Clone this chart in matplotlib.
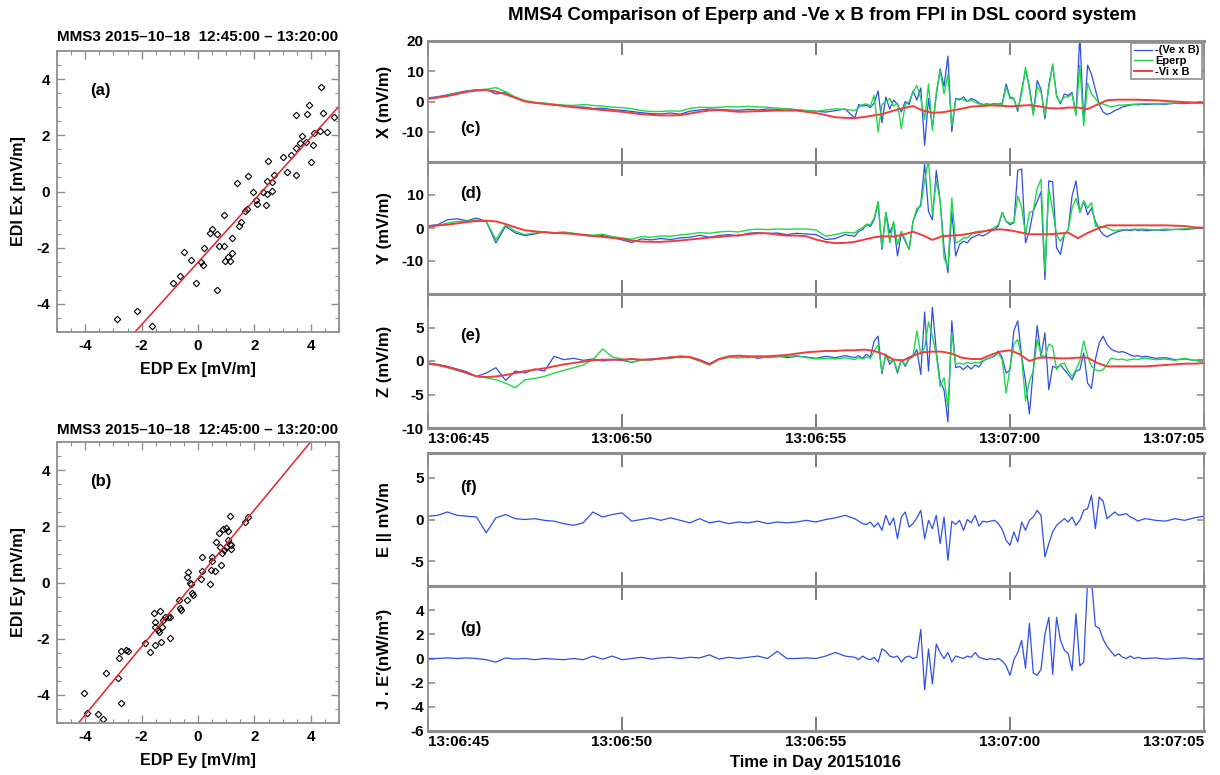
import numpy as np
import matplotlib
matplotlib.use('Agg')
import matplotlib.pyplot as plt
from matplotlib import font_manager, transforms
from matplotlib.ticker import MultipleLocator

names = {f.name for f in font_manager.fontManager.ttflist}
REG = 'Liberation Sans' if 'Liberation Sans' in names else 'DejaVu Sans'
plt.rcParams['font.family'] = [REG, 'DejaVu Sans']
plt.rcParams['font.weight'] = 'bold'
plt.rcParams['axes.unicode_minus'] = False

# ---------------- scatter data ----------------
title_ab = "MMS3 2015\u201310\u201318  12:45:00 \u2013 13:20:00"
ex_edp = [-2.86, -2.17, -1.63, -0.87, -0.64, -0.5, -0.25, -0.08, 0.11, 0.19, 0.21, 0.43, 0.51,
          0.69, 0.69, 0.75, 0.92, 0.93, 0.96, 1.07, 1.13, 1.21, 1.21, 1.39, 1.46, 1.51, 1.67,
          1.73, 1.77, 1.94, 2.06, 2.08, 2.29, 2.4, 2.45, 2.48, 2.44, 2.62, 2.64, 2.68, 3.0,
          3.15, 3.3, 3.48, 3.48, 3.48, 3.6, 3.69, 3.82, 3.88, 3.93, 3.99, 4.07, 4.11, 4.32,
          4.35, 4.43, 4.56, 4.82]
ex_edi = [-4.54, -4.24, -4.77, -3.25, -3.0, -2.14, -2.44, -3.24, -2.51, -2.63, -2.0, -1.46, -1.35,
          -1.5, -3.51, -1.95, -1.95, -0.85, -2.46, -2.33, -2.46, -2.18, -1.65, 0.3, -1.23, -1.07,
          -0.7, -0.63, 0.54, -0.01, -0.32, -0.44, 0.0, -0.48, -0.1, 1.1, 0.37, 0.35, 0.01, 0.58,
          1.23, 0.68, 1.3, 1.55, 0.6, 2.73, 1.73, 1.96, 1.75, 2.75, 3.08, 1.06, 1.65, 2.07, 2.14,
          3.73, 2.79, 2.11, 2.65]
fit_x = [1.11, -2.52]   # slope, intercept of red line in (a)

ey_edp = [-4.05, -3.93, -3.55, -3.37, -3.26, -2.85, -2.79, -2.74, -2.73, -2.56, -2.49, -1.88,
          -1.71, -1.57, -1.52, -1.54, -1.51, -1.43, -1.39, -1.36, -1.31, -1.29, -1.25, -1.17,
          -1.07, -1.01, -1.0, -0.69, -0.63, -0.6, -0.4, -0.36, -0.38, -0.3, -0.24, -0.2, -0.18,
          0.1, 0.14, 0.13, 0.42, 0.45, 0.48, 0.5, 0.6, 0.65, 0.74, 0.77, 0.83, 0.86, 0.89, 0.92,
          0.99, 1.01, 1.06, 1.08, 1.13, 1.15, 1.17, 1.18, 1.67, 1.76]
ey_edi = [-3.94, -4.63, -4.69, -4.86, -3.22, -3.4, -2.7, -2.45, -4.28, -2.41, -2.42, -2.14,
          -2.46, -1.09, -2.21, -1.39, -1.58, -1.7, -1.75, -1.03, -2.1, -1.6, -1.32, -1.21,
          -1.21, -1.98, -1.24, -0.61, -0.89, -0.97, 0.19, 0.39, -0.64, 0.0, -0.05, -0.37, -0.46,
          0.14, 0.9, 0.4, -0.04, 0.45, 0.78, 0.9, 0.4, 1.43, 1.76, 1.26, 0.61, 1.05, 1.91, 1.16,
          1.95, 1.26, 1.5, 1.85, 1.38, 2.35, 1.18, 1.35, 2.14, 2.32]
fit_y = [1.215, 0.15]

scatter_ticks = [-4, -2, 0, 2, 4]

# ---------------- time series data ----------------
time_labels = ['13:06:45', '13:06:50', '13:06:55', '13:07:00', '13:07:05']
time_ticks = [0, 5, 10, 15, 20]      # seconds after 13:06:45
t_slow = np.arange(0.0, 11.0, 0.25)
t_fast = np.arange(110, 185) / 10.0
t_tail = np.arange(18.5, 20.01, 0.25)
t_main = np.concatenate([t_slow, t_fast, t_tail])
t_red = np.arange(0.0, 20.01, 0.25)

c_blue = [1.2, 1.6, 2.2, 2.9, 3.5, 3.9, 4.0, 2.5, 3.0, 1.3, 0.2, -0.5, -0.6, -1.2, -1.3, -1.8, -1.8, -2.3, -2.2, -2.7,
          -2.9, -3.3, -3.7, -4.0, -4.1, -3.8, -4.2, -3.2, -2.8, -2.5, -2.6, -2.8, -2.9, -2.6, -2.8, -2.5, -2.6, -2.4, -2.7, -3.0,
          -3.2, -3.5, -3.0, -2.5,
          -5.5, -1.0, -1.5, -1.2, -2.0, -0.5, 3.5, -7.0, 1.5, -2.5,
          0.5, -1.0, -3.5, 0.0, -1.0, 3.5, 0.5, 4.5, -14.5, 1.0,
          -8.5, 2.0, 10.8, 5.0, 15.0, -10.0, 1.0, 0.5, 1.5, 0.0,
          1.0, 0.5, -0.5, -1.0, -0.8, -1.0, -0.7, -0.9, -0.5, 5.8,
          1.5, 1.0, -3.3, 3.6, 10.5, 5.0, -4.0, 6.9, 4.0, -5.7,
          5.5, 12.0, 2.0, -0.8, 2.5, 2.0, 3.0, -4.5, 22.0, -7.0,
          12.0, 9.0, 4.0, -1.0, -3.5, -4.3, -3.8, -3.0, -2.5, -1.8,
          -1.5, -1.2, -1.0, -1.1, -0.9,
          -1.0, -0.8, -0.9, -0.6, -0.7, -0.4, -0.5]
c_green = [0.8, 1.4, 2.0, 2.7, 3.3, 3.8, 4.0, 4.6, 3.2, 1.5, 0.3, -0.3, -0.5, -0.9, -1.2, -1.3, -1.0, -1.3, -1.5, -1.9,
           -2.0, -2.4, -3.0, -3.3, -3.3, -3.1, -3.2, -2.3, -1.9, -2.0, -1.9, -1.7, -1.8, -1.6, -1.8, -1.9, -2.2, -2.4, -2.8, -3.0,
           -3.3, -2.8, -2.4, -2.6,
           -3.0, -2.0, -1.0, -0.8, -1.5, 2.0, -10.0, -1.0, 0.0, 1.0,
           -1.5, -0.5, -9.0, -1.0, 0.0, 3.0, 5.3, 1.0, -6.0, 5.8,
           -9.5, 3.0, 10.2, 2.5, 9.0, -8.0, 0.5, 1.0, 0.5, 0.0,
           0.5, -0.2, -0.8, -1.0, -1.0, -0.9, -1.0, -0.8, -1.0, 4.8,
           1.0, 0.8, -2.5, 2.5, 11.3, 4.0, -4.6, 5.0, 3.0, -4.6,
           4.5, 12.4, 1.5, -0.2, 1.5, 1.5, 2.5, -4.5, 12.0, -8.0,
           6.0, 2.5, 1.0, -0.8, -0.8, -1.3, -1.8, -1.5, -1.2, -1.2,
           -1.1, -1.0, -0.9, -0.8, -0.8,
           -0.7, -0.8, -0.6, -0.5, -0.4, -0.3, -0.2]
c_red = [0.9, 1.3, 1.8, 2.5, 3.2, 3.6, 3.8, 3.3, 2.4, 1.2, 0.0, -0.4, -0.8, -1.1, -1.5, -1.9, -2.2, -2.5, -2.8, -3.1,
         -3.4, -3.8, -4.2, -4.4, -4.6, -4.6, -4.5, -4.0, -3.4, -3.0, -2.8, -3.1, -3.4, -3.3, -3.2, -3.1, -3.0, -3.0, -3.0, -3.4,
         -3.8, -4.5, -5.2, -5.4, -5.5, -5.1, -4.6, -4.0, -3.0, -2.2, -1.5, -3.0, -3.7, -3.6, -3.0, -2.4, -1.7, -1.5, -1.3, -1.4,
         -1.6, -1.4, -1.2, -1.6, -2.2, -2.3, -2.0, -2.0, -2.5, -1.0, 0.4, 0.6, 0.6, 0.6, 0.5, 0.4, 0.2, 0.0, -0.2, -0.4,
         -0.4]

d_blue = [0.7, 1.0, 2.5, 2.8, 2.2, 3.0, 2.0, -4.5, 0.5, -1.5, -2.3, -1.8, -1.2, -1.6, -1.4, -1.7, -2.2, -2.5, -2.3, -2.9,
          -3.6, -4.4, -3.3, -3.6, -3.2, -3.5, -3.0, -2.8, -2.2, -2.8, -2.3, -2.0, -2.4, -1.6, -1.4, -1.7, -1.5, -2.0, -1.6, -1.8,
          -2.0, -3.5, -3.2, -2.0,
          -2.5, -1.0, -0.5, 1.0, 0.5, 2.5, 7.5, -6.5, 4.7, -1.5,
          1.5, -8.5, -1.5, -4.0, -6.5, 2.0, 5.0, 7.2, 19.4, 5.0,
          2.5, 17.4, 8.2, -6.0, -13.6, 5.0, -8.5, -5.0, -4.0, -4.5,
          -3.0, -2.5, -2.0, -2.4, -1.8, -1.0, -0.5, 0.6, 4.7, 2.0,
          1.0, 1.6, 17.4, 17.9, -4.5, -1.0, 5.2, 8.0, 11.0, -15.6,
          14.3, 14.0, -6.0, -8.0, -2.0, -0.5, 9.7, 14.3, 4.7, 8.2,
          4.0, 6.0, 2.0, -0.4, -2.0, -2.7, -2.0, -1.5, -1.0, -0.8,
          -0.6, -0.8, -0.5, -0.7, -0.6,
          -0.8, -0.6, -0.7, -0.4, -0.5, -0.2, -0.1]
d_green = [0.2, 0.7, 1.5, 2.0, 2.0, 2.4, 2.0, -3.5, 1.0, -1.0, -2.0, -1.5, -1.2, -1.4, -1.2, -1.6, -2.0, -2.2, -1.9, -2.6,
           -3.0, -3.4, -2.6, -2.8, -2.4, -2.5, -2.1, -1.8, -1.4, -1.6, -1.2, -1.0, -1.2, -0.6, -0.3, -0.5, -0.3, -0.4, -0.3, -0.3,
           -0.6, -2.5, -2.0, -1.3,
           -1.5, -0.5, 0.0, 1.2, 1.0, 3.0, 8.1, -6.0, 4.7, -4.5,
           2.0, -5.0, -1.0, -3.5, -6.5, 2.0, 6.0, 6.5, 14.3, 20.5,
           4.0, 14.3, 8.2, -9.0, -12.0, 9.0, -4.5, -4.0, -3.0, -3.0,
           -2.0, -1.2, -1.0, -1.0, -0.8, -0.5, 0.2, 1.0, 4.7, 2.0,
           1.5, 1.8, 9.7, 6.2, -2.0, 4.7, 5.2, 12.0, 14.8, -13.0,
           12.0, 5.5, -2.0, -4.0, -2.0, -0.5, 6.0, 9.0, 5.0, 8.2,
           6.0, 7.7, 0.6, 0.5, 0.3, 0.1, -0.5, -0.8, -0.6, -0.5,
           -0.4, -0.5, -0.3, -0.4, -0.3,
           -0.4, -0.6, -0.3, -0.5, -0.2, 0.0, 0.1]
d_red = [0.5, 0.8, 1.0, 1.4, 1.8, 2.1, 2.2, 2.0, 1.2, 0.2, -0.7, -1.0, -1.3, -1.5, -1.6, -1.8, -2.1, -2.4, -2.7, -3.0,
         -3.3, -3.8, -4.1, -4.2, -4.2, -4.0, -3.8, -3.5, -3.2, -2.9, -2.7, -2.4, -2.2, -1.9, -1.6, -1.6, -2.0, -2.3, -2.3, -2.5,
         -3.5, -4.2, -4.6, -4.5, -4.2, -3.5, -2.8, -2.5, -2.6, -2.0, -1.1, -2.2, -3.6, -2.5, -2.3, -2.1, -1.6, -1.2, -0.6, -0.4,
         -0.7, -1.3, -1.9, -1.9, -1.9, -1.7, -1.4, -3.1, -1.5, -0.2, 0.8, 0.8, 0.8, 0.8, 0.8, 0.8, 0.8, 0.7, 0.6, 0.2,
         0.1]

e_blue = [-0.3, -0.5, -0.8, -1.2, -1.6, -2.3, -1.8, -1.0, -2.9, -1.5, -1.8, -1.2, -1.5, 0.7, 0.2, 0.4, 0.1, 0.3, 0.0, 0.2,
          0.1, -0.2, 0.2, 0.3, 0.4, 0.6, 0.5, 0.6, 0.2, -0.4, 0.3, 0.6, 0.5, 0.7, 0.4, 0.6, 0.8, 0.5, 0.7, 0.6,
          0.4, 0.7, 0.5, 0.8,
          0.5, 0.8, 0.4, 1.0, 0.6, 3.0, 3.7, -1.9, 1.0, -0.5,
          0.2, -1.8, 0.2, -0.8, 0.3, 0.7, 1.7, -2.0, 7.3, -1.5,
          8.0, 1.5, -3.0, -4.3, -9.1, 6.0, -1.0, -0.8, -1.3, -0.7,
          -1.2, -0.6, -0.9, 0.0, 0.3, 0.5, 0.7, 1.5, 0.5, -1.8,
          -1.3, 4.5, 6.0, 0.7, -3.0, -7.9, -1.3, 5.3, 0.7, 4.2,
          -4.3, -0.8, -1.0, -0.6, -1.3, -2.0, -2.8, -1.5, -1.3, 1.2,
          -3.3, -4.1, 0.2, 2.7, 3.7, 2.5, 1.8, 1.5, 1.3, 1.4,
          1.2, 0.9, 0.7, 0.8, 0.6,
          0.7, 0.4, 0.5, 0.2, 0.3, 0.1, 0.2]
e_green = [-0.3, -0.6, -1.0, -1.4, -1.8, -2.3, -2.5, -2.8, -3.3, -4.0, -2.8, -2.6, -2.3, -1.8, -1.4, -1.0, -0.6, 0.2, 1.8, 0.6,
           0.3, -0.2, 0.1, 0.2, 0.3, 0.4, 0.6, 0.5, 0.0, -0.6, 0.2, 0.5, 0.5, 0.5, 0.6, 0.5, 0.6, 0.7, 0.8, 0.5,
           0.3, 0.4, 0.3, 0.5,
           0.2, 0.5, 0.3, 0.6, 0.4, 1.5, 2.4, -1.6, 1.0, 0.0,
           0.2, -1.5, 0.2, -0.6, 0.5, 0.8, 4.5, 1.0, 2.0, 5.8,
           3.7, 1.0, -3.8, -2.5, -6.9, 4.2, -0.5, -0.3, -0.5, -0.2,
           -0.4, -0.2, -0.3, 0.1, 0.3, 0.5, 0.8, 1.2, 0.2, -4.8,
           -1.0, 2.5, 3.2, 0.5, -5.9, -3.0, -1.5, 3.2, 1.0, 0.5,
           2.5, 2.2, -1.3, -0.5, -0.3, -1.5, -2.3, -1.3, 0.0, 3.0,
           0.7, -0.8, -1.3, -1.5, -1.3, -0.5, 0.4, 0.3, 0.2, 0.3,
           0.1, 0.2, 0.3, 0.2, 0.4,
           0.4, 0.2, 0.3, 0.1, 0.4, 0.1, 0.2]
e_red = [-0.4, -0.6, -0.9, -1.3, -1.8, -2.3, -2.4, -2.3, -2.1, -1.8, -1.5, -1.3, -1.1, -0.8, -0.5, -0.3, -0.1, 0.1, 0.2, 0.2,
         0.2, 0.3, 0.2, 0.2, 0.4, 0.5, 0.7, 0.6, 0.1, -0.5, 0.3, 0.7, 0.8, 0.7, 0.7, 0.7, 0.8, 0.9, 1.1, 1.3,
         1.4, 1.5, 1.5, 1.6, 1.6, 1.7, 1.5, 1.0, 0.2, 0.1, 0.8, 1.3, 1.4, 1.4, 1.1, 0.5, 0.3, 0.3, 0.9, 1.4,
         1.6, 1.0, 0.0, 0.5, 0.5, 0.4, 0.4, 0.5, 0.5, -0.3, -0.8, -0.8, -0.8, -0.8, -0.8, -0.7, -0.6, -0.5, -0.4, -0.4,
         -0.3]

f_epar = [0.4, 0.5, 0.9, 0.5, 0.4, 0.3, -1.6, 0.2, 0.6, 0.1, 0.0, 0.1, -0.1, -0.2, -0.5, -0.7, -0.4, 0.9, 0.3, 0.6,
          0.8, -0.2, 0.0, 0.2, -0.1, 0.2, -0.1, -0.4, 0.1, -0.4, -0.2, -0.5, -0.3, -0.4, -0.2, -0.5, -0.3, -0.4, -0.3, -0.1,
          -0.3, 0.0, 0.2, 0.5,
          0.1, -0.2, -0.5, -0.6, -0.3, -0.9, -0.4, -1.3, 0.5, -0.7,
          0.2, -2.3, 0.3, 0.9, -0.9, -0.5, 0.2, 1.1, -2.3, -0.1,
          -1.1, 0.5, -2.9, 0.3, -4.9, -0.2, -0.6, -0.1, -1.3, 0.0,
          -0.4, 0.5, -0.8, -0.2, -0.3, -0.2, -0.1, -0.5, -1.2, -2.5,
          -3.1, -1.5, -2.7, -0.3, -1.3, -0.1, 0.3, 1.1, 0.5, -4.5,
          -2.9, -1.5, -0.7, -0.3, 0.1, -0.3, 0.3, -0.7, -0.1, 1.1,
          1.3, 2.9, -1.1, 2.7, 2.2, 0.1, 0.5, 0.9, 0.5, 0.6,
          0.7, 0.3, 0.1, -0.2, 0.0,
          0.1, -0.1, -0.2, 0.1, -0.1, 0.2, 0.4]
g_je = [0.0, 0.0, 0.05, 0.0, 0.05, 0.0, -0.1, -0.3, 0.05, -0.05, 0.0, -0.1, 0.0, -0.05, -0.1, 0.0, -0.1, 0.2, -0.05, 0.2,
        -0.1, 0.0, 0.1, -0.05, 0.05, 0.1, 0.0, 0.1, 0.05, 0.3, -0.05, 0.1, 0.0, 0.1, 0.2, 0.0, 0.6, 0.0, 0.0, 0.05,
        0.0, 0.2, 0.5, 0.2,
        0.1, -0.1, 0.2, 0.0, -0.1, 0.1, -0.3, 0.8, 0.6, 0.2,
        0.1, 0.2, -0.3, 0.1, 0.2, 0.0, 0.1, 2.4, -2.6, 0.8,
        -2.1, 1.2, 0.5, 0.0, 0.5, -0.3, 0.2, 0.1, 0.0, 0.2,
        0.1, 0.5, 0.1, 0.0, -0.1, 0.0, -0.1, 0.0, -0.2, -0.6,
        -1.4, -0.1, 0.5, 1.5, -0.8, 2.9, -1.2, -1.4, -0.9, 2.0,
        3.4, -1.3, 3.4, 1.5, 0.7, 0.4, -1.0, 3.7, -0.6, -0.3,
        6.5, 6.5, 2.7, 2.5, 1.6, 1.0, 0.6, 0.2, 0.4, 0.1,
        0.0, 0.2, 0.0, 0.1, 0.0,
        0.0, 0.05, -0.05, 0.0, 0.05, -0.05, 0.0]

legend_labels = ['-(Ve x B)', 'Eperp', '-Vi x B']

# ---------------- drawing ----------------
W, H = 1220, 775
fig = plt.figure(figsize=(W / 100, H / 100), dpi=100)


def rect(l, t, r, b):
    return [l / W, 1 - b / H, (r - l) / W, (b - t) / H]


FRAME = '#8f8f8f'
BLUE = '#2f4fe6'
GREEN = '#1fd94a'
RED = '#f23c3c'


def scatter_panel(box, xs, ys, fit, tag, xlabel, ylabel, title_y):
    ax = fig.add_axes(rect(*box))
    ax.plot(xs, ys, ls='none', marker='D', ms=3.3, mfc='none', mec='black', mew=0.8)
    lx = np.array([-6.0, 6.0])
    ax.plot(lx, fit[0] * lx + fit[1], color='#e8202a', lw=1.1)
    ax.set_xlim(-5, 5)
    ax.set_ylim(-5, 5)
    ax.set_xticks(scatter_ticks)
    ax.set_yticks(scatter_ticks)
    ax.set_xticklabels([str(v) for v in scatter_ticks])
    ax.set_yticklabels([str(v) for v in scatter_ticks])
    ax.xaxis.set_minor_locator(MultipleLocator(0.5))
    ax.yaxis.set_minor_locator(MultipleLocator(0.5))
    ax.tick_params(which='both', direction='in', top=True, right=True, color=FRAME,
                   labelsize=11, pad=5)
    ax.tick_params(which='major', length=6, width=1.0)
    ax.tick_params(which='minor', length=3, width=0.8)
    for s in ax.spines.values():
        s.set_color(FRAME)
        s.set_linewidth(1.3)
    ax.set_xlabel(xlabel, fontsize=11.5, fontweight='bold')
    ax.set_ylabel(ylabel, fontsize=11.5, fontweight='bold')
    ax.xaxis.set_label_coords(0.5, -(362 - 332) / 281)
    ax.yaxis.set_label_coords(-(57 - 26) / 282, 0.5)
    ax.text(0.117, 0.858, tag, transform=ax.transAxes, fontsize=12, fontweight='bold',
            va='center', ha='left')
    fig.text((box[0] + box[2]) / 2 / W, 1 - title_y / H, title_ab, ha='center', va='center',
             fontsize=11, fontweight='bold')
    return ax


scatter_panel((57, 51, 339, 332), ex_edp, ex_edi, fit_x, '(a)', 'EDP Ex [mV/m]', 'EDI Ex [mV/m]', 37)
scatter_panel((57, 442, 339, 723), ey_edp, ey_edi, fit_y, '(b)', 'EDP Ey [mV/m]', 'EDI Ey [mV/m]', 430)

panels = [
    dict(box=(428, 41, 1204, 162), ylim=(-20, 20), yt=[-20, -10, 0, 10, 20], ytl=['', '-10', '0', '10', '20'],
         ylabel='X (mV/m)', tag='(c)', tagpos=(0.041, 0.28), blue=c_blue, green=c_green, red=c_red, xl=False),
    dict(box=(428, 162, 1204, 294), ylim=(-20, 20), yt=[-20, -10, 0, 10, 20], ytl=['', '-10', '0', '10', ''],
         ylabel='Y (mV/m)', tag='(d)', tagpos=(0.041, 0.765), blue=d_blue, green=d_green, red=d_red, xl=False),
    dict(box=(428, 294, 1204, 428), ylim=(-10, 10), yt=[-10, -5, 0, 5, 10], ytl=['-10', '-5', '0', '5', ''],
         ylabel='Z (mV/m)', tag='(e)', tagpos=(0.041, 0.69), blue=e_blue, green=e_green, red=e_red, xl=True),
    dict(box=(428, 453, 1204, 586), ylim=(-8, 8), yt=[-5, 0, 5], ytl=['-5', '0', '5'],
         ylabel='E || mV/m', tag='(f)', tagpos=(0.041, 0.74), blue=f_epar, green=None, red=None, xl=False),
    dict(box=(428, 586, 1204, 731), ylim=(-6, 6), yt=[-6, -4, -2, 0, 2, 4, 6], ytl=['-6', '-4', '-2', '0', '2', '4', ''],
         ylabel="J . E\u2032(nW/m\u00b3)", tag='(g)', tagpos=(0.041, 0.71), blue=g_je, green=None, red=None, xl=True),
]

axes = []
for p in panels:
    ax = fig.add_axes(rect(*p['box']))
    axes.append(ax)
    h1, = ax.plot(t_main, p['blue'], color=BLUE, lw=0.9)
    if p['green'] is not None:
        h2, = ax.plot(t_main, p['green'], color=GREEN, lw=1.0)
        h3, = ax.plot(t_red, p['red'], color=RED, lw=1.4)
        handles = (h1, h2, h3)
    ax.set_xlim(0, 20)
    ax.set_ylim(*p['ylim'])
    ax.set_yticks(p['yt'])
    ax.set_yticklabels(p['ytl'])
    ax.set_xticks(time_ticks)
    if p['xl']:
        ax.set_xticklabels(time_labels)
        labs = ax.get_xticklabels()
        labs[0].set_ha('left')
        labs[-1].set_ha('right')
        labs[-1].set_transform(labs[-1].get_transform() +
                               transforms.ScaledTranslation(14 / 100, 0, fig.dpi_scale_trans))
    else:
        ax.set_xticklabels([])
    ax.tick_params(axis='x', direction='in', top=True, bottom=True, length=10, width=1.2,
                   color='#666666', labelsize=11, pad=3)
    ax.tick_params(axis='y', direction='in', left=True, right=True, length=5, width=1.2,
                   color=FRAME, labelsize=11, pad=3)
    for side in ('top', 'bottom'):
        ax.spines[side].set_color(FRAME)
        ax.spines[side].set_linewidth(2.2)
    for side in ('left', 'right'):
        ax.spines[side].set_color(FRAME)
        ax.spines[side].set_linewidth(1.3)
    ax.set_ylabel(p['ylabel'], fontsize=12, fontweight='bold')
    ax.yaxis.set_label_coords(-(428 - 392) / 776, 0.5)
    ax.text(p['tagpos'][0], p['tagpos'][1], p['tag'], transform=ax.transAxes, fontsize=12,
            fontweight='bold', va='center', ha='left')
    if p['tag'] == '(c)':
        leg = ax.legend(handles, legend_labels, loc='upper right', fontsize=8,
                        handlelength=1.6, handletextpad=0.3, labelspacing=0.05,
                        borderpad=0.25, borderaxespad=0.15, fancybox=False, framealpha=1.0)
        leg.get_frame().set_edgecolor(FRAME)
        leg.get_frame().set_linewidth(1.2)

axes[-1].set_xlabel('Time in Day 20151016', fontsize=12, fontweight='bold')
axes[-1].xaxis.set_label_coords(0.5, -(755 - 731) / 145)

fig.text(822 / W, 1 - 15 / H, 'MMS4 Comparison of Eperp and -Ve x B from FPI in DSL coord system',
         ha='center', va='center', fontsize=13.5, fontweight='bold')

fig.savefig('out.png', dpi=100)
